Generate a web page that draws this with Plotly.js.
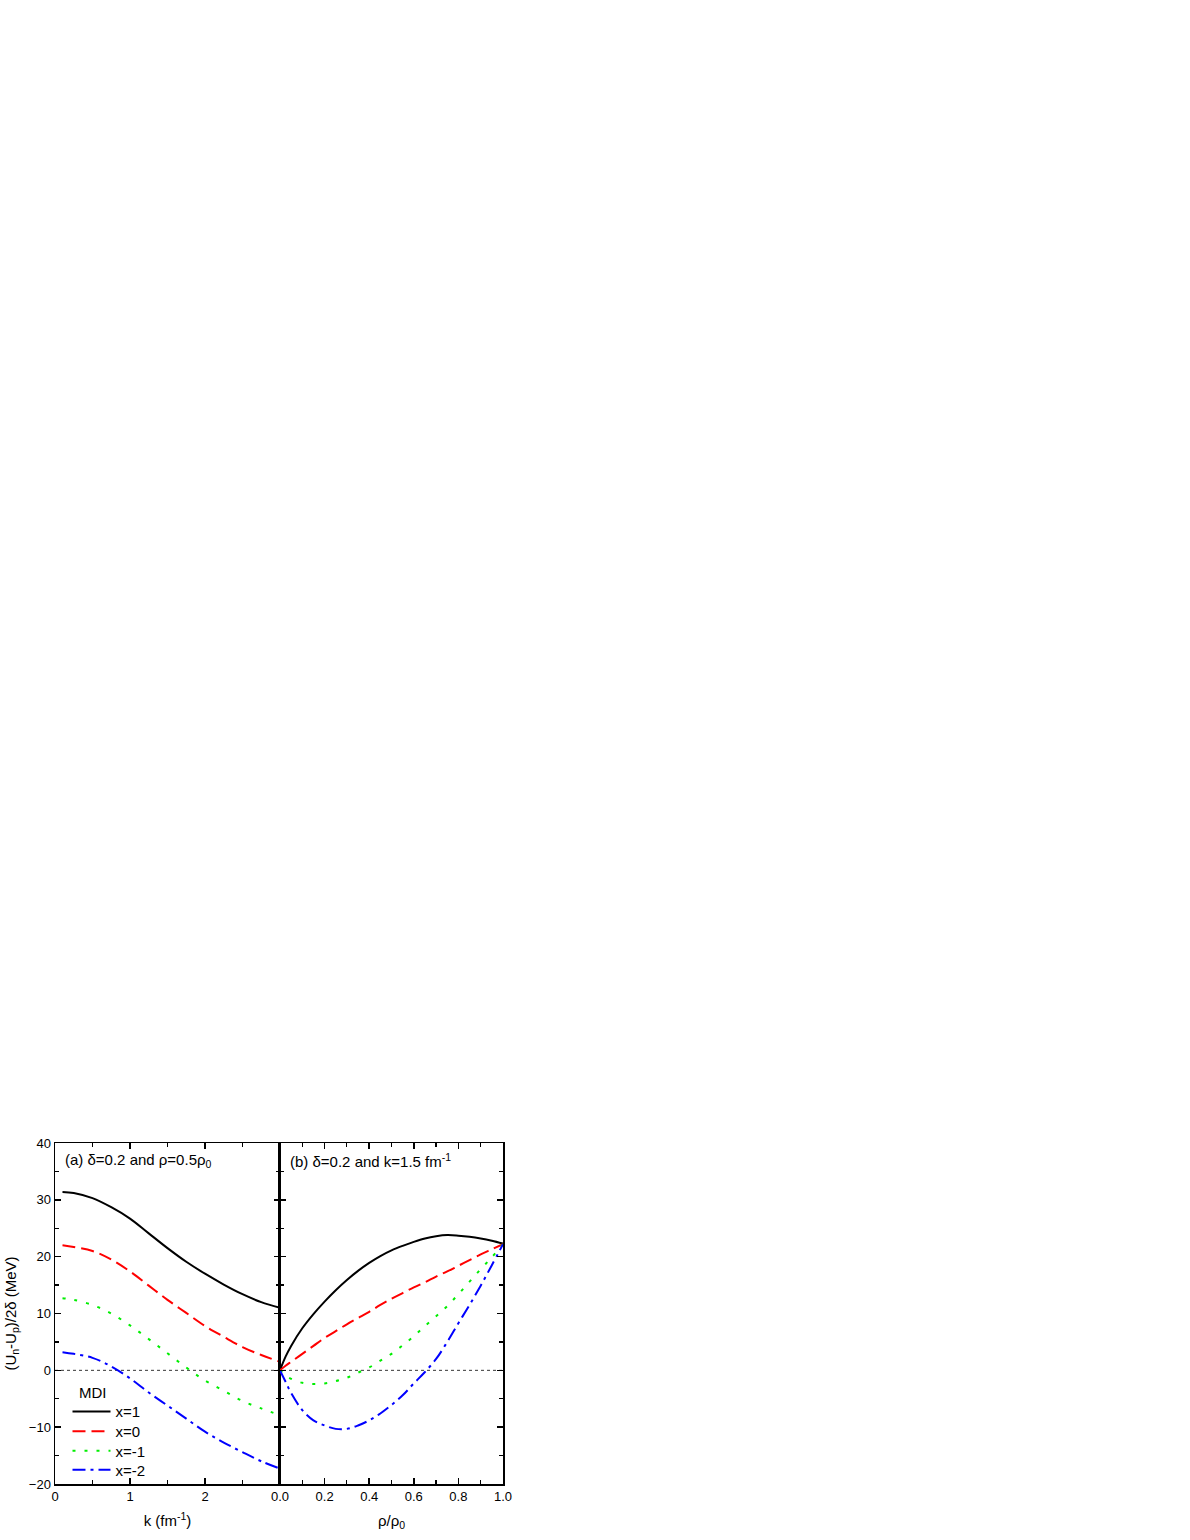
<!DOCTYPE html>
<html>
<head>
<meta charset="utf-8">
<script src="https://cdn.plot.ly/plotly-3.0.1.min.js"></script>
<style>html,body{margin:0;padding:0;background:#fff;}#chart{width:1190px;height:1540px;}</style>
</head>
<body>
<div id="chart"></div>
<script>
// Panel (a): k (fm^-1) at delta=0.2, rho=0.5 rho0
const kVals = [0.1, 0.25, 0.5, 0.75, 1.0, 1.25, 1.5, 1.75, 2.0, 2.25, 2.5, 2.75, 3.0];
const aX1  = [31.4, 31.2, 30.3, 28.7, 26.7, 24.1, 21.5, 19.1, 17.0, 15.1, 13.4, 12.0, 11.0];
const aX0  = [22.0, 21.7, 21.0, 19.5, 17.4, 14.9, 12.4, 10.1, 7.8, 5.9, 4.1, 2.7, 1.5];
const aXm1 = [12.7, 12.4, 11.5, 10.0, 7.9, 5.5, 3.0, 0.5, -1.8, -3.6, -5.4, -6.7, -7.9];
const aXm2 = [3.2, 2.9, 2.2, 0.7, -1.4, -3.9, -6.2, -8.5, -10.8, -12.7, -14.4, -16.0, -17.3];

// Panel (b): rho/rho0 at delta=0.2, k=1.5 fm^-1
const rhoVals = [0, 0.025, 0.05, 0.1, 0.15, 0.2, 0.25, 0.3, 0.35, 0.4, 0.45, 0.5, 0.55, 0.6, 0.65, 0.7, 0.75, 0.8, 0.85, 0.9, 0.95, 1.0];
const bX1  = [0, 2.4, 4.3, 7.4, 9.9, 12.1, 14.1, 15.9, 17.5, 18.9, 20.1, 21.1, 21.9, 22.6, 23.2, 23.6, 23.8, 23.7, 23.5, 23.2, 22.8, 22.3];
const bX0  = [0, 0.8, 1.5, 2.9, 4.3, 5.7, 6.9, 8.1, 9.2, 10.3, 11.5, 12.6, 13.6, 14.6, 15.5, 16.5, 17.4, 18.4, 19.4, 20.4, 21.3, 22.2];
const bXm1 = [0, -0.9, -1.5, -2.2, -2.4, -2.3, -1.9, -1.3, -0.4, 0.5, 1.7, 2.9, 4.4, 6.0, 7.8, 9.5, 11.3, 13.4, 15.6, 17.8, 19.9, 22.2];
const bXm2 = [0, -2.0, -4.0, -7.0, -8.8, -9.7, -10.3, -10.3, -9.7, -8.8, -7.6, -6.1, -4.4, -2.3, -0.3, 2.0, 5.0, 8.3, 11.5, 14.9, 18.5, 22.2];

const seriesNames = ['x=1', 'x=0', 'x=-1', 'x=-2'];
const colors = ['#000000', '#ff0000', '#00ee00', '#0000ff'];
const dashes = ['solid', '13px,6px', '3px,9px', '13px,5px,3px,5px'];
const legendIds = ['legend', 'legend2', 'legend3', 'legend4'];

const aData = [aX1, aX0, aXm1, aXm2];
const bData = [bX1, bX0, bXm1, bXm2];

const traces = [];
for (let i = 0; i < 4; i++) {
  traces.push({x: kVals, y: aData[i], xaxis: 'x', yaxis: 'y', mode: 'lines', name: seriesNames[i],
    legend: legendIds[i],
    line: {color: colors[i], width: 2, dash: dashes[i], shape: 'spline', smoothing: 1}, showlegend: true});
}
for (let i = 0; i < 4; i++) {
  traces.push({x: rhoVals, y: bData[i], xaxis: 'x2', yaxis: 'y2', mode: 'lines', name: seriesNames[i],
    line: {color: colors[i], width: 2, dash: dashes[i], shape: 'spline', smoothing: 1}, showlegend: false});
}

const fam = 'Liberation Sans, Arial, sans-serif';
const font = {family: fam, size: 13, color: '#000'};
const axCommon = {showline: true, linecolor: '#000', linewidth: 1.5, mirror: 'ticks', ticks: 'inside',
  ticklen: 6, tickwidth: 1.5, tickcolor: '#000', showgrid: false, zeroline: false,
  tickfont: {family: fam, size: 13, color: '#000'}};

// legend rows (pixel centres in reference: 1411.7, 1431.7, 1451, 1470)
const rowY = [(1484 - 1411.7) / 341, (1484 - 1431.5) / 341, (1484 - 1451) / 341, (1484 - 1470) / 341];
function mkLegend(i) {
  return {x: 0.0279, y: rowY[i], xanchor: 'left', yanchor: 'middle', bgcolor: 'rgba(0,0,0,0)',
    borderwidth: 0, font: {family: fam, size: 15, color: '#000'}, itemwidth: 38};
}

const layout = {
  width: 1190, height: 1540,
  margin: {l: 55, r: 687, t: 1143, b: 56},
  paper_bgcolor: '#fff', plot_bgcolor: 'rgba(0,0,0,0)',
  font: font,
  showlegend: true,
  legend: mkLegend(0), legend2: mkLegend(1), legend3: mkLegend(2), legend4: mkLegend(3),
  xaxis: Object.assign({}, axCommon, {domain: [0, 0.5022], range: [0, 3], tickmode: 'array', tickvals: [0, 1, 2],
    minor: {tickmode: 'array', tickvals: [0.5, 1.5, 2.5], ticks: 'inside', ticklen: 4, tickwidth: 1.2, tickcolor: '#000'},
    anchor: 'y', title: {text: 'k (fm<sup>-1</sup>)', font: {size: 15}, standoff: 12}}),
  xaxis2: Object.assign({}, axCommon, {domain: [0.5022, 1], range: [0, 1], dtick: 0.2, tick0: 0, tickformat: '.1f',
    minor: {dtick: 0.1, ticks: 'inside', ticklen: 4, tickwidth: 1.2, tickcolor: '#000'},
    anchor: 'y2', title: {text: 'ρ/ρ<sub>0</sub>', font: {size: 15}, standoff: 12}}),
  yaxis: Object.assign({}, axCommon, {range: [-20, 40], dtick: 10, tick0: 0, anchor: 'x',
    minor: {dtick: 5, ticks: 'inside', ticklen: 4, tickwidth: 1.2, tickcolor: '#000'},
    title: {text: '(U<sub>n</sub>-U<sub>p</sub>)/2δ (MeV)', font: {size: 15}, standoff: 8}}),
  yaxis2: Object.assign({}, axCommon, {range: [-20, 40], dtick: 10, tick0: 0, anchor: 'x2', matches: 'y',
    showticklabels: false,
    minor: {dtick: 5, ticks: 'inside', ticklen: 4, tickwidth: 1.2, tickcolor: '#000'}}),
  shapes: [
    {type: 'line', xref: 'paper', yref: 'y', x0: 0, x1: 1, y0: 0, y1: 0, line: {color: '#000', width: 0.8, dash: 'dot'}, layer: 'below'}
  ],
  annotations: [
    {xref: 'x', yref: 'y', x: 0.107, y: 36.9, xanchor: 'left', yanchor: 'middle', showarrow: false,
      text: '(a) δ=0.2 and ρ=0.5ρ<sub>0</sub>', font: {size: 15}},
    {xref: 'x2', yref: 'y2', x: 0.037, y: 36.9, xanchor: 'left', yanchor: 'middle', showarrow: false,
      text: '(b) δ=0.2 and k=1.5 fm<sup>-1</sup>', font: {size: 15}},
    {xref: 'x', yref: 'y', x: 0.513, y: -3.95, xanchor: 'center', yanchor: 'middle', showarrow: false,
      text: 'MDI', font: {size: 15}}
  ]
};

Plotly.newPlot('chart', traces, layout, {displayModeBar: false, staticPlot: true});
</script>
</body>
</html>
